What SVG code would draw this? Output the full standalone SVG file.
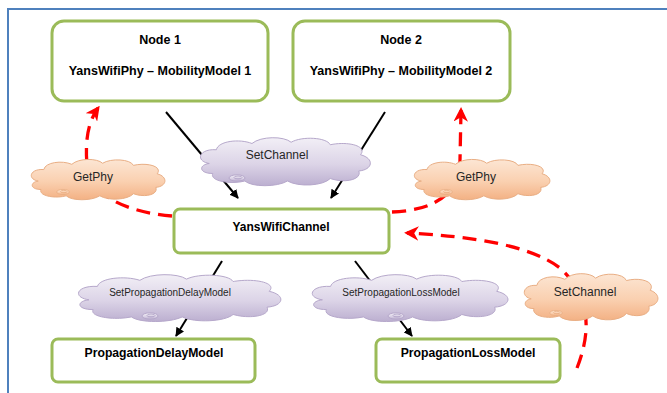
<svg xmlns="http://www.w3.org/2000/svg" width="667" height="393" viewBox="0 0 667 393">
  <style>
    .box { fill: #FFFFFF; stroke: #9BBB59; stroke-width: 3; }
    .btxt { font-family: "Liberation Sans", Arial, sans-serif; font-weight: bold; fill: #000; text-anchor: middle; }
    .ctxt { font-family: "Liberation Sans", Arial, sans-serif; fill: #262626; text-anchor: middle; }
    .link { stroke: #000; stroke-width: 2; fill: none; marker-end: url(#arrowBlack); }
    .call { stroke: #FF0000; stroke-width: 3.3; fill: none; stroke-dasharray: 14 8; }
    .purple { fill: url(#gradPurple); stroke: #B6A8CB; stroke-width: 1; }
    .orange { fill: url(#gradOrange); stroke: #E9AE84; stroke-width: 1; }
    .frame { stroke: #4F81BD; stroke-width: 2; fill: none; }
  </style>
  <defs>
    <linearGradient id="gradPurple" x1="0" y1="0" x2="0" y2="1">
      <stop offset="0" stop-color="#F2EFF6"/>
      <stop offset="0.55" stop-color="#DCD4E7"/>
      <stop offset="1" stop-color="#BCAFD0"/>
    </linearGradient>
    <linearGradient id="gradOrange" x1="0" y1="0" x2="0" y2="1">
      <stop offset="0" stop-color="#FCE6D4"/>
      <stop offset="0.55" stop-color="#FAD0B0"/>
      <stop offset="1" stop-color="#F3B184"/>
    </linearGradient>
    <marker id="arrowBlack" viewBox="0 0 10 10" refX="9" refY="5" markerWidth="4.5" markerHeight="4.5" orient="auto" markerUnits="strokeWidth">
      <path d="M0,0 L10,5 L0,10 z" fill="#000"/>
    </marker>
    <marker id="arrowRed" viewBox="0 0 10 10" refX="8" refY="5" markerWidth="4.4" markerHeight="4.4" orient="auto" markerUnits="strokeWidth">
      <path d="M0,0 L10,5 L0,10 L3,5 z" fill="#FF0000"/>
    </marker>
    <!-- generic cloud outline in a 100 x 40 box -->
    <path id="cloud" vector-effect="non-scaling-stroke" d="M8,22 C0,20 2,10 12,11 C13,4 25,2 32,6 C37,0 50,0 54,5 C60,0 74,1 76,7 C86,4 97,8 93,15 C101,18 100,27 92,28 C94,35 84,38 76,34 C72,40 58,41 52,36 C46,41 32,41 28,36 C20,39 8,36 10,30 C2,30 2,23 8,22 Z"/>
    <g id="swirl">
      <ellipse cx="0" cy="0" rx="8" ry="3.2"/>
      <ellipse cx="1" cy="-0.5" rx="4" ry="1.5"/>
    </g>
  </defs>

  <!-- page frame -->
  <path class="frame" d="M8,393 L8,9 L667,9"/>

  <!-- connectors -->
  <g id="connectors">
    <path class="link" d="M166,112 L238,198"/>
    <path class="link" d="M385,112 L331,198"/>
    <path class="link" d="M222,261 L176,336"/>
    <path class="link" d="M355,261 L412,336"/>
    <path class="call" marker-end="url(#arrowRed)" d="M172,216 C125,212 90,195 87,165 C85,140 88,122 98,108"/>
    <path class="call" marker-end="url(#arrowRed)" d="M392,212 C440,210 460,190 460,160 L461,110"/>
    <path class="call" marker-end="url(#arrowRed)" d="M577,368 C592,330 590,295 560,268 C530,245 470,236 407,233"/>
  </g>

  <!-- clouds (method labels) -->
  <g id="cloud-setchannel-top">
    <use href="#cloud" class="purple" transform="translate(195,136) scale(1.78,1.25)"/>
    <use href="#swirl" class="purple" transform="translate(237,178)"/>
    <text class="ctxt" x="277" y="159" font-size="12">SetChannel</text>
  </g>
  <g id="cloud-getphy-left">
    <use href="#cloud" class="orange" transform="translate(27,158) scale(1.40,1.05)"/>
    <use href="#swirl" class="orange" transform="translate(63,192) scale(0.8)"/>
    <text class="ctxt" x="93" y="181" font-size="12">GetPhy</text>
  </g>
  <g id="cloud-getphy-right">
    <use href="#cloud" class="orange" transform="translate(410,158) scale(1.42,1.05)"/>
    <use href="#swirl" class="orange" transform="translate(446,192) scale(0.8)"/>
    <text class="ctxt" x="476" y="181" font-size="12">GetPhy</text>
  </g>
  <g id="cloud-setdelay">
    <use href="#cloud" class="purple" transform="translate(72,273) scale(2.12,1.22)"/>
    <use href="#swirl" class="purple" transform="translate(150,316)"/>
    <text class="ctxt" x="170" y="296" font-size="10">SetPropagationDelayModel</text>
  </g>
  <g id="cloud-setloss">
    <use href="#cloud" class="purple" transform="translate(306,273) scale(2.05,1.22)"/>
    <use href="#swirl" class="purple" transform="translate(396,316)"/>
    <text class="ctxt" x="401" y="296" font-size="10">SetPropagationLossModel</text>
  </g>
  <g id="cloud-setchannel-right">
    <use href="#cloud" class="orange" transform="translate(520,272) scale(1.40,1.22)"/>
    <use href="#swirl" class="orange" transform="translate(556,313) scale(0.8)"/>
    <text class="ctxt" x="585" y="296" font-size="12">SetChannel</text>
  </g>

  <!-- nodes -->
  <g id="node1">
    <rect class="box" x="52" y="21" width="216" height="80" rx="12"/>
    <text class="btxt" x="160" y="44" font-size="12.5">Node 1</text>
    <text class="btxt" x="160" y="75" font-size="12.5">YansWifiPhy – MobilityModel 1</text>
  </g>
  <g id="node2">
    <rect class="box" x="293" y="21" width="217" height="80" rx="12"/>
    <text class="btxt" x="401" y="44" font-size="12.5">Node 2</text>
    <text class="btxt" x="401" y="75" font-size="12.5">YansWifiPhy – MobilityModel 2</text>
  </g>
  <g id="yanswifichannel">
    <rect class="box" x="174" y="209" width="215" height="44" rx="6"/>
    <text class="btxt" x="281" y="231" font-size="12">YansWifiChannel</text>
  </g>
  <g id="propagationdelaymodel">
    <rect class="box" x="52" y="339" width="203" height="43" rx="6"/>
    <text class="btxt" x="154" y="357" font-size="12.2">PropagationDelayModel</text>
  </g>
  <g id="propagationlossmodel">
    <rect class="box" x="376" y="339" width="184" height="43" rx="6"/>
    <text class="btxt" x="468" y="357" font-size="12.2">PropagationLossModel</text>
  </g>
</svg>
